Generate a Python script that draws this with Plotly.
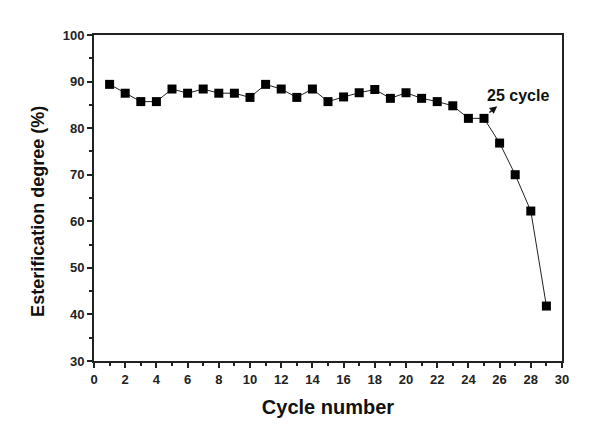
import plotly.graph_objects as go

cycles = list(range(1, 30))
esterification = [89.4, 87.5, 85.7, 85.7, 88.4, 87.5, 88.4, 87.5, 87.5, 86.6,
                  89.4, 88.4, 86.6, 88.4, 85.7, 86.7, 87.6, 88.3, 86.4, 87.6,
                  86.4, 85.7, 84.8, 82.1, 82.1, 76.8, 70.0, 62.2, 41.8]

x_ticks = list(range(0, 31, 2))
y_ticks = list(range(30, 101, 10))

fig = go.Figure()
fig.add_trace(go.Scatter(
    x=cycles, y=esterification, mode="lines+markers",
    line=dict(color="#222222", width=1),
    marker=dict(symbol="square", size=9, color="black"),
    showlegend=False,
))

font_family = "Liberation Sans, Arial, sans-serif"

axis_common = dict(
    showline=True, linecolor="#222222", linewidth=2, mirror=True,
    ticks="outside", ticklen=5, tickwidth=2, tickcolor="#222222",
    showgrid=False, zeroline=False, automargin=False,
    tickfont=dict(family=font_family, size=13, color="#222222", weight="bold"),
)

fig.update_xaxes(
    range=[0, 30], tickvals=x_ticks,
    minor=dict(dtick=1, ticks="outside", ticklen=3, tickwidth=1.5, tickcolor="#222222"),
    title=dict(text="Cycle number", font=dict(family=font_family, size=20, color="#111111", weight="bold"), standoff=14),
    **axis_common,
)
fig.update_yaxes(
    range=[30, 100], tickvals=y_ticks,
    minor=dict(dtick=5, ticks="outside", ticklen=3, tickwidth=1.5, tickcolor="#222222"),
    **axis_common,
)

fig.add_annotation(
    xref="paper", yref="paper", x=-0.12, y=0.46, textangle=-90,
    xanchor="center", yanchor="middle",
    text="Esterification degree (%)", showarrow=False,
    font=dict(family=font_family, size=18, color="#111111", weight="bold"),
)

fig.add_annotation(
    x=27.2, y=87.1, text="25 cycle", showarrow=False,
    font=dict(family=font_family, size=16, color="#111111", weight="bold"),
)
fig.add_annotation(
    x=25.85, y=84.7, ax=25.25, ay=83.1, axref="x", ayref="y",
    text="", showarrow=True, arrowhead=2, arrowsize=1, arrowwidth=1.5, arrowcolor="#111111",
)

fig.update_layout(
    width=600, height=443,
    margin=dict(l=94, r=38, t=35, b=82),
    plot_bgcolor="white", paper_bgcolor="white",
)

fig.write_html("out.html", config={"displayModeBar": False},
               post_script="document.body.style.margin='0';")
